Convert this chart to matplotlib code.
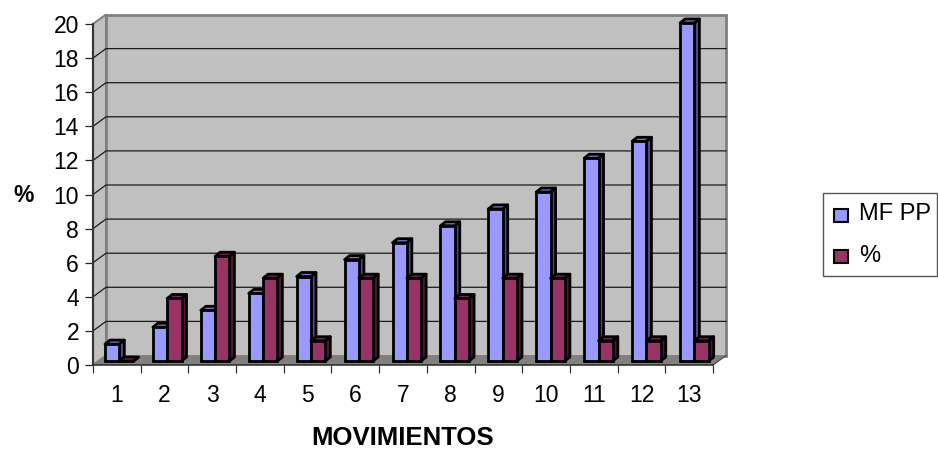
import matplotlib
matplotlib.use("Agg")
import matplotlib.pyplot as plt
from matplotlib.patches import Polygon, Rectangle

plt.rcParams['font.family'] = ['Liberation Sans', 'DejaVu Sans']

# Data
categories = [1, 2, 3, 4, 5, 6, 7, 8, 9, 10, 11, 12, 13]
mf_pp = [1, 2, 3, 4, 5, 6, 7, 8, 9, 10, 12, 13, 20]
percent = [0, 3.7, 6.2, 4.9, 1.2, 4.9, 4.9, 3.7, 4.9, 4.9, 1.2, 1.2, 1.2]
y_ticks = list(range(0, 21, 2))
series_names = ["MF PP", "%"]

W, H = 938, 454
fig = plt.figure(figsize=(W / 100, H / 100), dpi=100)

# axes = front plane of the fake 3D box
left, right, top, bottom = 93, 713, 24, 365
ax = fig.add_axes([left / W, 1 - bottom / H, (right - left) / W, (bottom - top) / H])
ax.set_xlim(0.5, 13.5)
ax.set_ylim(0, 20)
ax.patch.set_visible(False)

# px to data units
ux = 13 / (right - left)
uy = 20 / (bottom - top)
depth_x = 13 * ux
depth_y = 9.5 * uy

wall = "#C0C0C0"
edge = "#808080"

# walls and floor
ax.add_patch(Polygon([(0.5, 0), (0.5 + depth_x, depth_y), (0.5 + depth_x, 20 + depth_y), (0.5, 20)],
                     fc=wall, ec=edge, lw=1.5, clip_on=False, zorder=1))
ax.add_patch(Rectangle((0.5 + depth_x, depth_y), 13, 20, fc=wall, ec=edge, lw=2, clip_on=False, zorder=1))
ax.add_patch(Polygon([(0.5, 0), (13.5, 0), (13.5 + depth_x, depth_y), (0.5 + depth_x, depth_y)],
                     fc=edge, ec="none", clip_on=False, zorder=2))
ax.plot([13.5, 13.5 + depth_x], [0, depth_y], color="#555555", lw=1, clip_on=False, zorder=2)

# gridlines run up the side wall then across the back
for v in y_ticks[1:-1]:
    ax.plot([0.5, 0.5 + depth_x, 13.5 + depth_x], [v, v + depth_y, v + depth_y],
            color="#1a1a1a", lw=0.9, clip_on=False, zorder=2)

# bars sit a little behind the front plane, so they get their own axes
bar_left, bar_right, bar_bottom, bar_top = 93, 716, 361, 23
bar_ax = fig.add_axes([bar_left / W, 1 - bar_bottom / H, (bar_right - bar_left) / W, (bar_bottom - bar_top) / H])
bar_ax.set_xlim(0.5, 13.5)
bar_ax.set_ylim(0, 20)
bar_ax.axis("off")
bar_ux = 13 / (bar_right - bar_left)
bar_uy = 20 / (bar_bottom - bar_top)


def draw_bar(x, w, v, face, side, roof):
    bx = 5 * bar_ux
    by = 4 * bar_uy
    bar_ax.add_patch(Polygon([(x, v), (x + bx, v + by), (x + w + bx, v + by), (x + w, v)],
                             fc=roof, ec="black", lw=2, joinstyle="round", clip_on=False, zorder=3))
    bar_ax.add_patch(Polygon([(x + w, 0), (x + w + bx, by), (x + w + bx, v + by), (x + w, v)],
                             fc=side, ec="black", lw=2, joinstyle="round", clip_on=False, zorder=3))
    bar_ax.bar(x, v, width=w, align="edge", color=face, edgecolor="black", lw=2, clip_on=False, zorder=3)


bar_w = 14.3 * bar_ux
offset = 12 * bar_ux
for i, c in enumerate(categories):
    x0 = c - 0.5 + offset
    draw_bar(x0, bar_w, mf_pp[i], "#9999FF", "#4D4D80", "#7A7ACC")
    draw_bar(x0 + bar_w, bar_w, percent[i], "#993366", "#4D1A33", "#7A2952")

# axes lines, ticks, labels
for s in ["top", "right"]:
    ax.spines[s].set_visible(False)
ax.spines["left"].set_linewidth(1.5)
ax.spines["left"].set_color("#333333")
ax.spines["bottom"].set_linewidth(1.2)
ax.spines["bottom"].set_color("#333333")

ax.set_yticks(y_ticks)
ax.set_xticks(categories)
ax.set_xticks([c + 0.5 for c in [0] + categories], minor=True)
ax.tick_params(axis="x", which="major", length=0, pad=14, labelsize=16.5, colors="black")
ax.tick_params(axis="x", which="minor", length=5.5, width=0.9, color="#333333")
ax.tick_params(axis="y", length=6, width=0.9, pad=4, labelsize=16.5, color="#222222")

fig.text(24 / W, 1 - 195 / H, "%", fontsize=16.5, fontweight="bold", ha="center", va="center")
fig.text(403 / W, 1 - 438 / H, "MOVIMIENTOS", fontsize=18.5, fontweight="bold", ha="center", va="center")

# legend box
fig.add_artist(Rectangle((823 / W, 1 - 276 / H), 113.5 / W, 83 / H, transform=fig.transFigure,
                         fc="white", ec="#555555", lw=1))
for name, col, ky in zip(series_names, ["#9999FF", "#993366"], [215, 256.5]):
    fig.add_artist(Rectangle((834 / W, 1 - (ky + 6.5) / H), 13.5 / W, 13 / H, transform=fig.transFigure,
                             fc=col, ec="black", lw=1.5))
    fig.text(859 / W, 1 - (ky - 1) / H, name, fontsize=17, ha="left", va="center")

fig.savefig("out.png", dpi=100)
